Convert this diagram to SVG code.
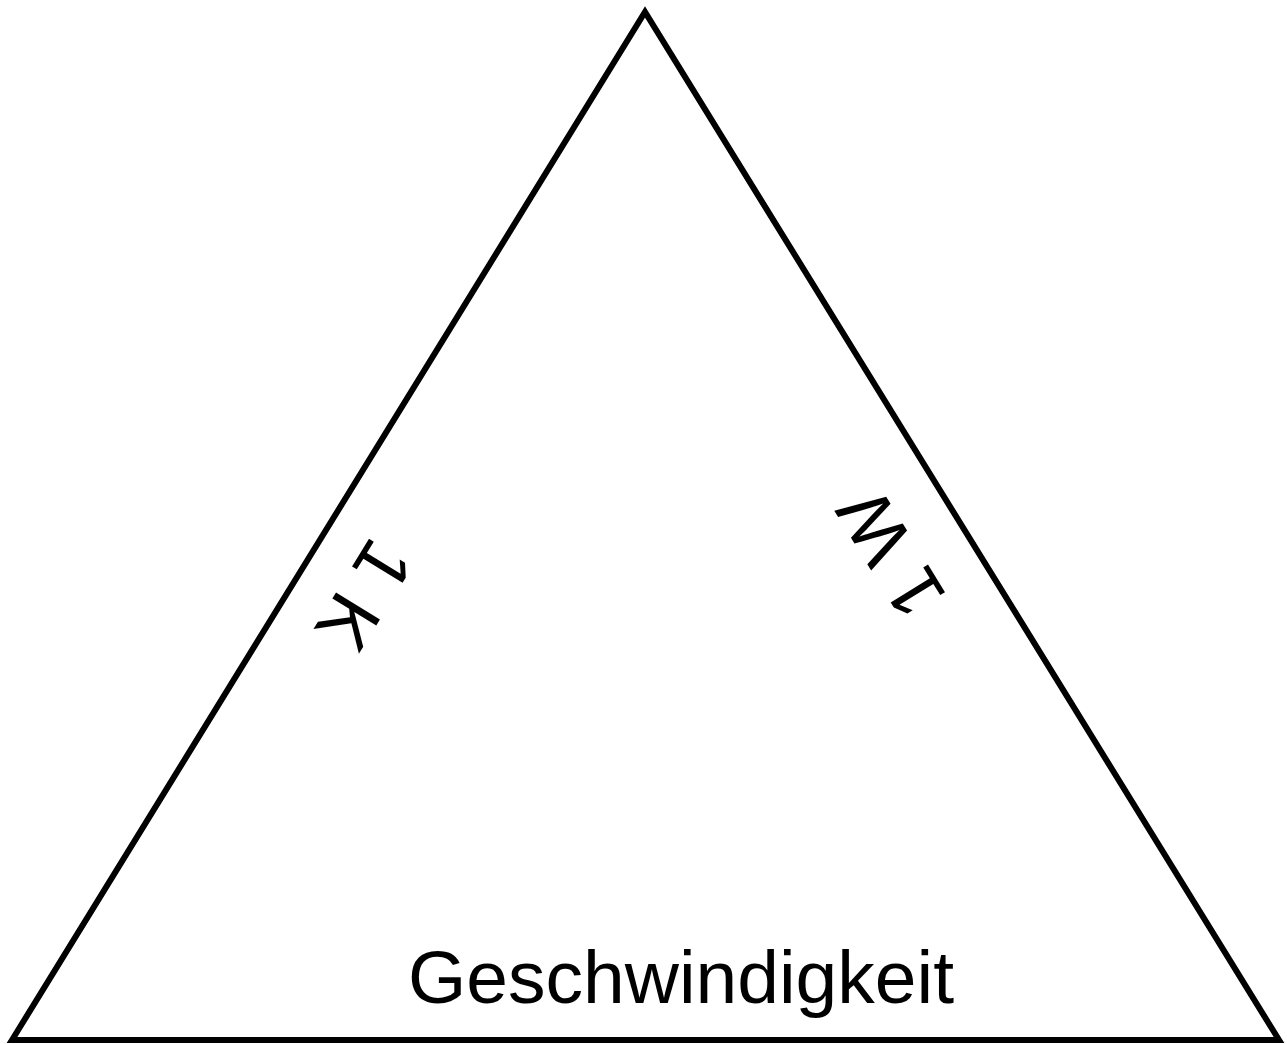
<svg xmlns="http://www.w3.org/2000/svg" width="1287" height="1044" viewBox="0 0 1287 1044">
<style>
.t{font-family:"Liberation Sans",Arial,sans-serif;font-size:75px;fill:#000}
.edge{fill:none;stroke:#000;stroke-width:6;stroke-linejoin:miter}
</style>
<rect width="1287" height="1044" fill="#fff"/>
<g id="connectors">
<polygon class="edge" points="12,1040 645,12 1279,1040"/>
</g>
<g id="label-left">
<text class="t" transform="translate(372,534) rotate(121.67)">1 K</text>
</g>
<g id="label-right">
<text class="t" transform="translate(948,597) rotate(-121.67)">1 W</text>
</g>
<g id="label-bottom">
<text class="t" x="681" y="1003" text-anchor="middle">Geschwindigkeit</text>
</g>
</svg>
